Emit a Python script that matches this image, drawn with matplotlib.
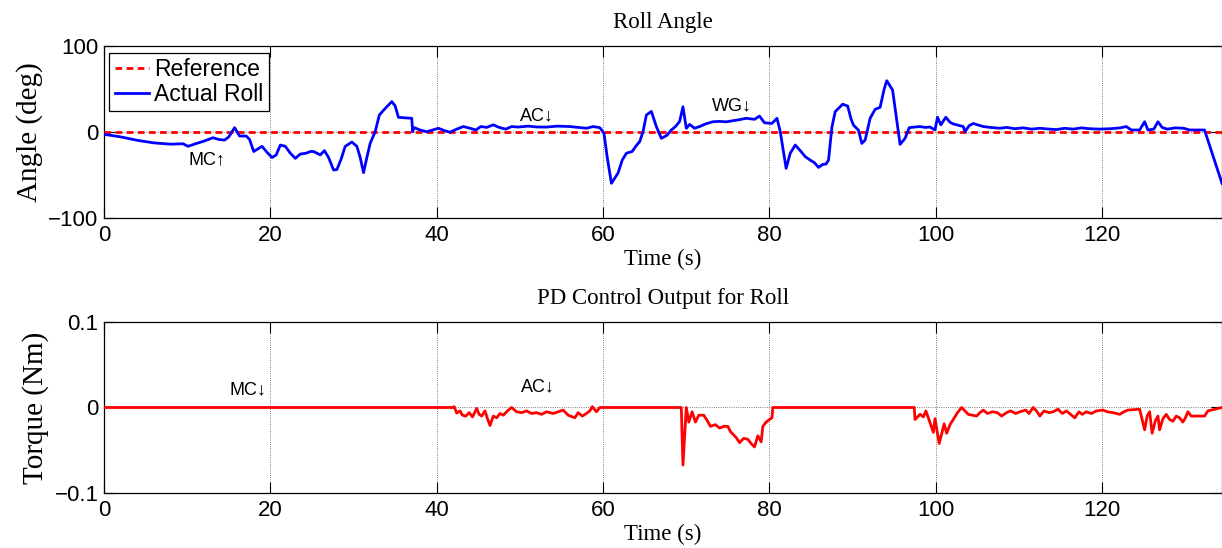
import numpy as np
import matplotlib
matplotlib.use("Agg")
import matplotlib.pyplot as plt

# ── roll angle trace (s, deg) ────────────────────────────────────────────────
roll_t = [0.0, 2.0, 4.0, 6.0, 8.0, 9.5, 10.1, 11.0, 12.0, 13.1, 13.8, 14.5, 15.0, 15.7,
          16.3, 17.1, 17.5, 18.0, 18.5, 19.0, 19.6, 20.2, 20.7, 21.2, 21.8, 22.4, 23.0,
          23.6, 24.3, 24.8, 25.2, 25.6, 26.0, 26.5, 27.0, 27.6, 28.0, 28.5, 29.0, 29.8,
          30.4, 30.8, 31.2, 31.6, 32.0, 32.6, 33.1, 33.8, 34.6, 35.0, 35.4, 37.0, 37.1,
          37.3, 38.0, 38.8, 39.5, 40.2, 41.0, 41.6, 42.4, 43.2, 44.0, 44.7, 45.3, 46.0,
          46.8, 47.5, 48.3, 49.0, 49.8, 51.0, 52.0, 53.2, 54.5, 56.0, 57.0, 58.0, 58.8,
          59.6, 60.1, 60.5, 61.0, 61.8, 62.3, 62.8, 63.5, 64.0, 64.4, 64.8, 65.2, 65.8,
          66.4, 67.0, 67.7, 68.2, 68.7, 69.2, 69.6, 70.0, 70.4, 71.0, 71.6, 72.3, 73.2,
          74.0, 74.8, 75.6, 76.4, 77.2, 78.2, 78.8, 79.4, 80.3, 80.9, 81.3, 82.0, 82.5,
          83.1, 83.7, 84.3, 84.9, 85.4, 85.9, 86.4, 86.8, 87.1, 87.5, 87.9, 88.8, 89.4,
          89.8, 90.1, 90.7, 91.1, 91.5, 92.1, 92.7, 93.3, 93.8, 94.1, 94.8, 95.2, 95.7,
          96.3, 96.8, 97.5, 98.1, 98.7, 99.3, 99.9, 100.2, 100.6, 101.2, 101.7, 102.1,
          102.7, 103.3, 103.5, 104.0, 104.5, 105.0, 105.7, 106.5, 107.7, 108.5, 109.5,
          110.5, 111.5, 112.5, 113.7, 114.5, 115.5, 116.5, 117.5, 118.5, 119.7, 121.0,
          122.2, 122.9, 123.5, 124.5, 125.1, 125.5, 126.2, 126.7, 127.2, 127.8, 128.8,
          129.8, 130.5, 132.3, 134.4]
roll_deg = [-3, -6, -10, -13, -14.5, -14, -17, -14, -11, -7, -9, -9.7, -6, 4.7,
            -5, -5, -9, -23, -20, -17, -24, -30, -27, -15.5, -17, -25, -31,
            -26, -25, -23, -23, -25, -27, -22, -30, -44.5, -44, -32, -17, -12,
            -17, -30, -47.6, -30, -13.5, 0, 19.4, 27, 35, 30, 16.7, 15.6, 0,
            4.7, 2, 0, 2, 4, 1, -0.5, 3, 6, 4, 2, 6, 5,
            8, 5, 3, 6, 5.4, 6.5, 5.5, 5.4, 6.5, 6, 5, 4, 6,
            4.7, -1.6, -30, -60, -48, -33, -25, -23, -16, -11.5, 0, 19.4, 23.6,
            6, -7.7, -4, 2, 6, 12, 29, 4, 8.5, 4, 6, 9, 11.6,
            12, 11.5, 12.8, 14, 15.6, 14.4, 18.2, 10.4, 9.6, 15.6, 0, -42.6, -25,
            -15.5, -22, -29, -33, -36, -41.5, -38, -37.6, -33, 5, 23.3, 32, 29.8,
            15, 7.6, 1.8, -13.6, -9.7, 15.6, 26, 28.4, 50, 59.3, 48.4, 20, -14.7,
            -7.7, 4.7, 5.5, 6, 5, 5.4, 2, 16.8, 8, 16.8, 11, 9,
            7.5, 6, 0, 7, 9.6, 8, 6, 5, 4, 5, 3.5,
            4.5, 3, 4, 3, 2.5, 4, 3, 4.5, 3.5, 3, 3.5,
            4.5, 6, 2, 2, 11.6, 2, 3, 11.6, 5, 3, 4.5,
            4, 2, 2, -60]

# ── PD torque output (s, Nm) ─────────────────────────────────────────────────
torque_t = [0.0, 42.0, 42.1, 42.4, 42.8, 43.1, 43.5, 43.9, 44.3, 44.8, 45.1, 45.4, 45.8,
            46.1, 46.4, 46.8, 47.2, 47.6, 48.0, 48.5, 49.0, 49.6, 50.2, 50.8, 51.4,
            52.0, 52.6, 53.2, 54.0, 54.6, 55.2, 55.8, 56.6, 57.0, 57.5, 58.0, 58.4,
            58.7, 59.2, 59.6, 69.4, 69.6, 70.0, 70.3, 70.7, 71.1, 71.5, 72.1, 72.5,
            72.9, 73.5, 74.0, 74.5, 75.0, 75.3, 75.6, 76.0, 76.4, 76.9, 77.4, 77.8,
            78.2, 78.6, 79.0, 79.2, 79.6, 80.0, 80.3, 80.4, 97.4, 97.5, 98.1, 98.5,
            98.8, 99.1, 99.7, 99.9, 100.4, 101.0, 101.3, 101.7, 102.1, 102.6, 103.1,
            103.5, 103.9, 104.4, 104.9, 105.3, 105.7, 106.2, 106.8, 107.4, 107.9,
            108.5, 109.0, 109.6, 110.1, 110.8, 111.2, 111.7, 112.1, 112.5, 113.0,
            113.6, 114.1, 114.7, 115.2, 115.7, 116.2, 116.7, 117.2, 117.6, 118.1,
            118.7, 119.3, 120.1, 120.6, 121.3, 122.1, 122.6, 123.1, 124.5, 125.1,
            125.4, 125.7, 126.0, 126.4, 126.7, 126.9, 127.3, 127.7, 128.1, 128.5,
            128.9, 129.3, 129.7, 130.0, 130.3, 130.7, 132.3, 132.7, 134.4]
torque_nm = [0.0, 0.0, 0.001, -0.0065, -0.004, -0.009, -0.010, -0.006, -0.011, -0.001,
             -0.008, -0.010, -0.004, -0.013, -0.021, -0.010, -0.012, -0.007, -0.009,
             -0.004, 0.000, -0.005, -0.006, -0.004, -0.007, -0.006, -0.008, -0.005,
             -0.007, -0.005, -0.003, -0.009, -0.012, -0.006, -0.010, -0.007, -0.004,
             0.001, -0.005, 0.0, 0.0, -0.067, 0.0, -0.017, -0.005, -0.017, -0.009,
             -0.009, -0.015, -0.022, -0.020, -0.024, -0.022, -0.022, -0.028, -0.031,
             -0.035, -0.041, -0.036, -0.037, -0.042, -0.046, -0.033, -0.040, -0.022,
             -0.017, -0.014, -0.012, 0.0, 0.0, -0.014, -0.008, -0.011, -0.004, -0.012,
             -0.029, -0.013, -0.042, -0.019, -0.030, -0.020, -0.014, -0.006, 0.0,
             -0.004, -0.008, -0.009, -0.010, -0.006, -0.003, -0.007, -0.005, -0.006,
             -0.010, -0.006, -0.004, -0.007, -0.005, -0.003, -0.007, 0.0, -0.004,
             -0.010, -0.004, -0.006, -0.005, -0.002, -0.007, -0.004, -0.008, -0.012,
             -0.005, -0.008, -0.005, -0.007, -0.004, -0.003, -0.005, -0.006, -0.008,
             -0.005, -0.003, -0.002, -0.026, -0.010, -0.005, -0.030, -0.015, -0.010,
             -0.026, -0.013, -0.008, -0.014, -0.016, -0.010, -0.012, -0.017, -0.012,
             -0.005, -0.010, -0.010, -0.004, 0.0]

# event markers: (label, time, value)
roll_events = [("MC\u2191", 12.4, -33), ("AC\u2193", 52.1, 18.8), ("WG\u2193", 75.5, 30.5)]
torque_events = [("MC\u2193", 17.25, 0.020), ("AC\u2193", 52.2, 0.0235)]

T_END = 134.4
x_ticks = [0, 20, 40, 60, 80, 100, 120]

SERIF = ["Liberation Serif", "DejaVu Serif"]
SANS = ["Liberation Sans", "DejaVu Sans"]
plt.rcParams["font.family"] = SANS
plt.rcParams["axes.unicode_minus"] = True


def style_axes(ax, ylim, yticks, ylabel, title):
    ax.set_xlim(0, T_END)
    ax.set_ylim(*ylim)
    ax.set_xticks(x_ticks)
    ax.set_yticks(yticks)
    ax.tick_params(direction="in", length=8, width=0.8, labelsize=16,
                   top=True, right=True, pad=5)
    ax.tick_params(axis="y", pad=4)
    ax.grid(True, ls=":", color="#555555", lw=0.6)
    ax.set_axisbelow(True)
    for s in ax.spines.values():
        s.set_linewidth(0.9)
    ax.set_xlabel("Time (s)", family=SERIF, fontsize=16.5, labelpad=2)
    ax.set_ylabel(ylabel, family=SERIF, fontsize=21, labelpad=4)
    ax.set_title(title, family=SERIF, fontsize=16.5, pad=13)


fig = plt.figure(figsize=(12.22, 5.48), dpi=100)
ax1 = fig.add_axes([0.0851, 0.6027, 0.9149, 0.3139])
ax2 = fig.add_axes([0.0851, 0.0998, 0.9149, 0.3132])

# top: roll angle
ax1.plot([0, T_END], [0, 0], color="red", lw=2, dashes=(2.4, 1.6), label="Reference", zorder=3)
ax1.plot(roll_t, roll_deg, color="blue", lw=2, label="Actual Roll", zorder=4)
style_axes(ax1, (-100, 100), [-100, 0, 100], "Angle (deg)", "Roll Angle")
ax1.yaxis.set_major_formatter(matplotlib.ticker.FuncFormatter(
    lambda v, p: f"{v:.0f}".replace("-", "\u2212")))
leg = ax1.legend(loc="upper left", bbox_to_anchor=(0.0047, 0.959), borderaxespad=0,
                 fontsize=16.5, handlelength=1.5, handletextpad=0.2, labelspacing=0.05,
                 borderpad=0.25, fancybox=False, framealpha=1, edgecolor="k")
leg.get_frame().set_linewidth(0.9)
for lab, t, v in roll_events:
    ax1.text(t, v, lab, ha="center", va="center", fontsize=13, family=SANS, zorder=5)

# bottom: PD torque
ax2.plot(torque_t, torque_nm, color="red", lw=2, zorder=4)
style_axes(ax2, (-0.1, 0.1), [-0.1, 0, 0.1], "Torque (Nm)", "PD Control Output for Roll")
ax2.yaxis.set_major_formatter(matplotlib.ticker.FuncFormatter(
    lambda v, p: "0" if abs(v) < 1e-9 else f"{v:.1f}".replace("-", "\u2212")))
for lab, t, v in torque_events:
    ax2.text(t, v, lab, ha="center", va="center", fontsize=13, family=SANS, zorder=5)

fig.savefig("out.png", dpi=100)
plt.close(fig)
